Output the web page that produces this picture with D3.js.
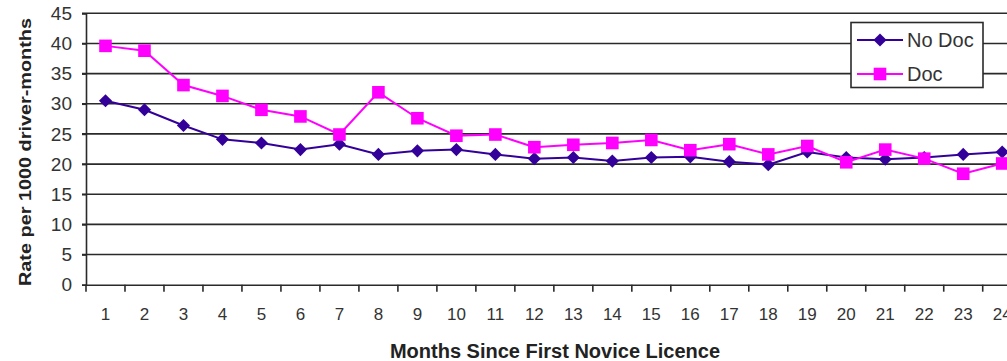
<!DOCTYPE html>
<html>
<head>
<meta charset="utf-8">
<script src="https://cdn.jsdelivr.net/npm/d3@7"></script>
<style>
  html, body { margin: 0; padding: 0; background: #fff; overflow: hidden; }
  text { font-family: "Liberation Sans", Arial, sans-serif; }
</style>
</head>
<body>
<svg id="chart" width="1007" height="361"></svg>
<script>
const months = [1,2,3,4,5,6,7,8,9,10,11,12,13,14,15,16,17,18,19,20,21,22,23,24];
const noDoc = [30.5,29.0,26.4,24.1,23.5,22.4,23.3,21.6,22.2,22.4,21.6,20.9,21.1,20.5,21.1,21.2,20.4,19.9,22.0,21.1,20.8,21.1,21.6,22.0];
const doc   = [39.6,38.8,33.1,31.3,29.0,27.9,24.9,31.9,27.6,24.7,24.9,22.8,23.2,23.5,24.0,22.3,23.3,21.6,23.0,20.3,22.4,20.9,18.4,20.1];
const yTicks = [0,5,10,15,20,25,30,35,40,45];
const seriesNames = ["No Doc", "Doc"];
const seriesColors = ["#330099", "#ff00ff"];
const xTitle = "Months Since First Novice Licence";
const yTitle = "Rate per 1000 driver-months";

const svg = d3.select("#chart");
const pL = 86, pR = 1021.7, pT = 13.3, pB = 284.7;

const x = d3.scaleBand().domain(months).range([pL, pR]);
const y = d3.scaleLinear().domain([0, 45]).range([pB, pT]);
const cx = d => x(d) + x.bandwidth() / 2;

// gridlines
svg.append("g").selectAll("line").data(yTicks.filter(t => t > 0)).join("line")
  .attr("x1", pL - 4).attr("x2", pR)
  .attr("y1", d => y(d)).attr("y2", d => y(d))
  .attr("stroke", "#2a2a2a").attr("stroke-width", 1.6);

// y axis
const yAxis = svg.append("g").attr("transform", `translate(${pL},0)`)
  .call(d3.axisLeft(y).tickValues(yTicks).tickSize(4).tickPadding(10));
yAxis.select(".domain").attr("stroke", "#2a2a2a").attr("stroke-width", 1.6);
yAxis.selectAll(".tick line").attr("stroke", "#2a2a2a").attr("stroke-width", 1.6);
yAxis.selectAll(".tick text").attr("font-size", 19).attr("fill", "#333")
  .attr("font-family", "'Liberation Sans', Arial, sans-serif");

// x axis
const xAxis = svg.append("g").attr("transform", `translate(0,${pB})`)
  .call(d3.axisBottom(x).tickSize(0).tickPadding(23));
xAxis.select(".domain").attr("stroke", "#2a2a2a").attr("stroke-width", 1.6);
xAxis.selectAll(".tick text").attr("font-size", 17).attr("fill", "#333")
  .attr("font-family", "'Liberation Sans', Arial, sans-serif");
// tick marks at band edges
svg.append("g").selectAll("line").data(months).join("line")
  .attr("x1", d => x(d)).attr("x2", d => x(d))
  .attr("y1", pB).attr("y2", pB + 7)
  .attr("stroke", "#2a2a2a").attr("stroke-width", 1.6);

// lines
const line = d3.line().x((d, i) => cx(months[i])).y(d => y(d));
[noDoc, doc].forEach((s, k) => {
  svg.append("path").datum(s).attr("d", line)
    .attr("fill", "none").attr("stroke", seriesColors[k]).attr("stroke-width", 2);
});

// markers
const diamond = d3.symbol().type(d3.symbolDiamond2).size(110);
svg.append("g").selectAll("path").data(noDoc).join("path")
  .attr("d", diamond)
  .attr("transform", (d, i) => `translate(${cx(months[i])},${y(d)})`)
  .attr("fill", seriesColors[0]);
svg.append("g").selectAll("rect").data(doc).join("rect")
  .attr("x", (d, i) => cx(months[i]) - 6.3).attr("y", d => y(d) - 6.3)
  .attr("width", 12.6).attr("height", 12.6)
  .attr("fill", seriesColors[1]);

// axis titles
svg.append("text").attr("x", 555).attr("y", 358)
  .attr("text-anchor", "middle").attr("font-weight", "bold").attr("font-size", 20)
  .attr("fill", "#222").text(xTitle);
svg.append("text").attr("transform", "translate(31,152) rotate(-90)")
  .attr("text-anchor", "middle").attr("font-weight", "bold").attr("font-size", 17)
  .attr("textLength", 268).attr("lengthAdjust", "spacingAndGlyphs")
  .attr("fill", "#222").text(yTitle);

// legend
const lg = svg.append("g");
lg.append("rect").attr("x", 851).attr("y", 22.5).attr("width", 132).attr("height", 65)
  .attr("fill", "#fff").attr("stroke", "#2a2a2a").attr("stroke-width", 1.6);
const rows = [40, 74];
seriesNames.forEach((n, k) => {
  lg.append("line").attr("x1", 857).attr("x2", 903).attr("y1", rows[k]).attr("y2", rows[k])
    .attr("stroke", seriesColors[k]).attr("stroke-width", 2);
  if (k === 0) {
    lg.append("path").attr("d", diamond).attr("transform", `translate(880,${rows[k]})`)
      .attr("fill", seriesColors[0]);
  } else {
    lg.append("rect").attr("x", 880 - 6.3).attr("y", rows[k] - 6.3)
      .attr("width", 12.6).attr("height", 12.6).attr("fill", seriesColors[1]);
  }
  lg.append("text").attr("x", 907).attr("y", rows[k]).attr("dy", "0.36em")
    .attr("font-size", 20).attr("fill", "#333").text(n);
});
</script>
</body>
</html>
